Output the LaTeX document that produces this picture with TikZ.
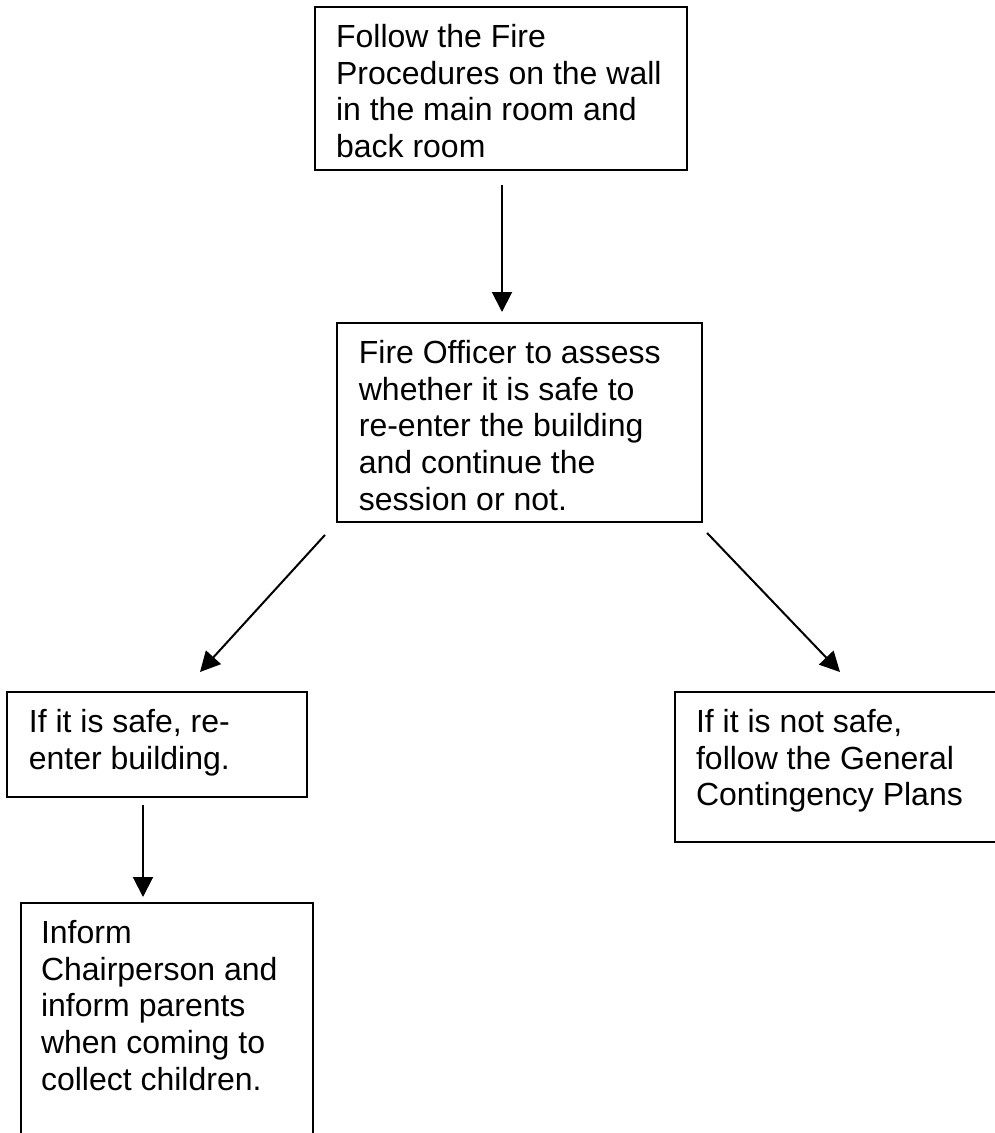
\documentclass[tikz,border=0pt]{standalone}
\usepackage{fontspec}
\setmainfont{Liberation Sans}
\usetikzlibrary{arrows.meta,positioning,calc}

\begin{document}
\begin{tikzpicture}[
  x=0.375pt, y=-0.375pt,
  box/.style={rectangle, draw, line width=0.75pt, inner sep=0pt, outer sep=0pt, anchor=north west},
  txt/.style={inner sep=0pt, outer sep=0pt, align=left, font=\fontsize{12pt}{13.8pt}\selectfont},
  arrow/.style={-{Triangle[length=7.5pt,width=7.5pt]}, line width=0.75pt}
]
  \clip (0,0) rectangle (995,1133);

  % Boxes
  \node[box, minimum width=139.5pt, minimum height=61.1pt] (fire) at (315,7) {};
  \node[box, minimum width=136.9pt, minimum height=74.6pt] (assess) at (337,323) {};
  \node[box, minimum width=112.5pt, minimum height=39.4pt] (safe) at (7,692) {};
  \node[box, minimum width=125.6pt, minimum height=56.3pt] (notsafe) at (675,692) {};
  \node[box, minimum width=109.5pt, minimum height=92.6pt] (inform) at (21,903) {};

  % Texts
  \node[txt, below right=6.4pt and 7.9pt of fire.north west] (firetxt)
    {Follow the Fire\\Procedures on the wall\\in the main room and\\back room};
  \node[txt, below right=6.4pt and 8.2pt of assess.north west] (assesstxt)
    {Fire Officer to assess\\whether it is safe to\\re-enter the building\\and continue the\\session or not.};
  \node[txt, below right=6.4pt and 8.2pt of safe.north west] (safetxt)
    {If it is safe, re-\\enter building.};
  \node[txt, below right=6.4pt and 7.9pt of notsafe.north west] (notsafetxt)
    {If it is not safe,\\follow the General\\Contingency Plans};
  \node[txt, below right=6.4pt and 7.5pt of inform.north west] (informtxt)
    {Inform\\Chairperson and\\inform parents\\when coming to\\collect children.};

  % Arrows
  \draw[arrow] ($(fire.south west)+(187,15)$) -- ($(assess.north west)+(165,-11)$);
  \draw[arrow] ($(assess.south west)+(-12,13)$) -- ($(safe.north west)+(193,-20)$);
  \draw[arrow] ($(assess.south east)+(5,11)$) -- ($(notsafe.north west)+(165,-20)$);
  \draw[arrow] ($(safe.south west)+(136,8)$) -- ($(inform.north west)+(122,-6)$);
\end{tikzpicture}
\end{document}
